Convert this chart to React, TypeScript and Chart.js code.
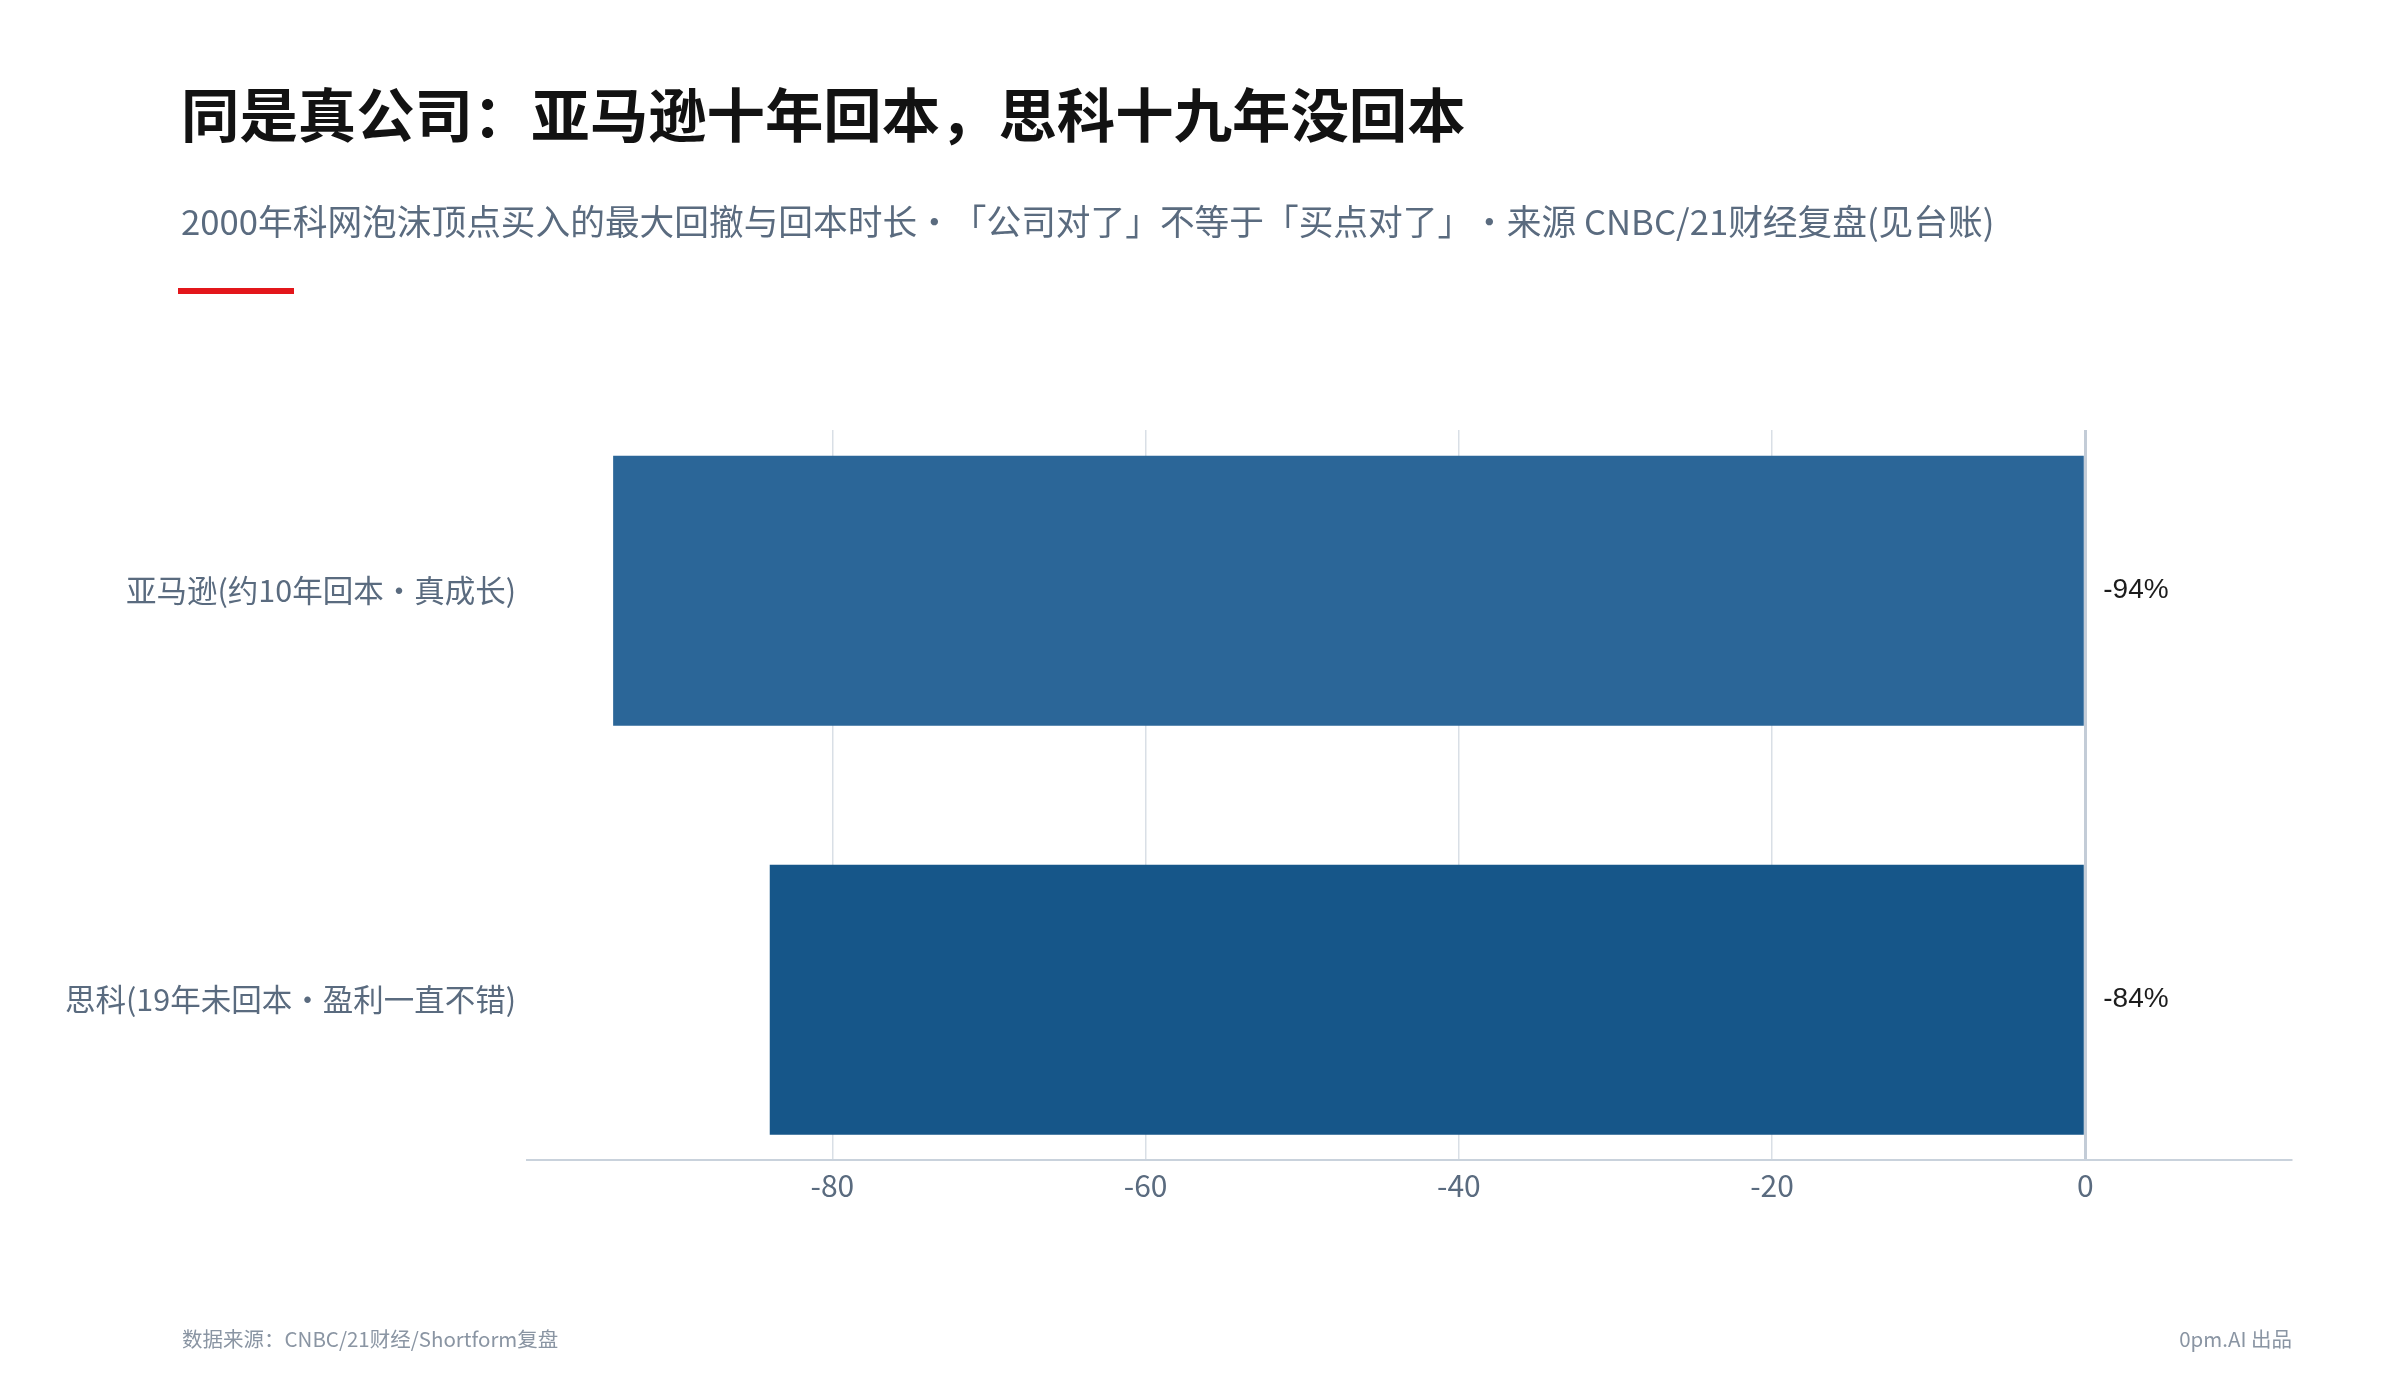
import React, { useRef, useEffect } from 'react';
import { Chart, registerables } from 'chart.js';

Chart.register(...registerables);

// data
const categories = ['亚马逊(约10年回本・真成长)', '思科(19年未回本・盈利一直不错)'];
const drawdown = [-94, -84];
const barColors = ['#2b6698', '#165689'];
const xTickValues = [-80, -60, -40, -20, 0];
const X_MIN = -99.5;
const X_MAX = 13.2;

const TITLE = '同是真公司：亚马逊十年回本，思科十九年没回本';
const SUBTITLE =
  '2000年科网泡沫顶点买入的最大回撤与回本时长・「公司对了」不等于「买点对了」・来源 CNBC/21财经复盘(见台账)';
const FOOT_LEFT = '数据来源：CNBC/21财经/Shortform复盘';
const FOOT_RIGHT = '0pm.AI 出品';

const CJK = '"Noto Sans CJK SC", "Noto Sans", sans-serif';
const SLATE = '#5a6b7f';

const valueLabels = {
  id: 'valueLabels',
  afterDatasetsDraw(chart: any) {
    const ctx = chart.ctx;
    const meta = chart.getDatasetMeta(0);
    const zero = chart.scales.x.getPixelForValue(0);
    meta.data.forEach((bar: any, i: number) => {
      ctx.save();
      ctx.font = '28px "Liberation Sans", Arial, sans-serif';
      ctx.fillStyle = '#1c1c1c';
      ctx.textAlign = 'left';
      ctx.textBaseline = 'middle';
      ctx.fillText(`${drawdown[i]}%`, zero + 18, bar.y);
      ctx.restore();
    });
  },
};

const DrawdownChart: React.FC = () => {
  const canvasRef = useRef<HTMLCanvasElement | null>(null);

  useEffect(() => {
    if (!canvasRef.current) return;

    const chart = new Chart(canvasRef.current, {
      type: 'bar',
      data: {
        datasets: [
          {
            data: drawdown.map((v, i) => ({ x: v, y: i })),
            backgroundColor: barColors,
            borderWidth: 0,
            barPercentage: 0.66,
            categoryPercentage: 1,
          },
        ],
      },
      options: {
        indexAxis: 'y',
        responsive: false,
        animation: false,
        devicePixelRatio: 1,
        layout: { padding: { top: 430, right: 108, bottom: 180, left: 0 } },
        plugins: {
          legend: { display: false },
          tooltip: { enabled: false },
        },
        scales: {
          x: {
            type: 'linear',
            min: X_MIN,
            max: X_MAX,
            afterBuildTicks: (scale: any) => {
              scale.ticks = xTickValues.map((v) => ({ value: v }));
            },
            afterFit: (scale: any) => {
              scale.height = 60;
            },
            grid: {
              drawTicks: false,
              color: (c: any) => (c.tick && c.tick.value === 0 ? '#c3ccd7' : '#d9dfe6'),
              lineWidth: (c: any) => (c.tick && c.tick.value === 0 ? 3 : 1.5),
            },
            border: { display: true, color: '#c9d2dc', width: 2 },
            ticks: {
              font: { family: CJK, size: 30 },
              color: SLATE,
              padding: 8,
            },
          },
          y: {
            type: 'linear',
            reverse: true,
            offset: false,
            min: -0.393,
            max: 1.392,
            afterBuildTicks: (scale: any) => {
              scale.ticks = categories.map((_, i) => ({ value: i }));
            },
            afterFit: (scale: any) => {
              scale.width = 527;
            },
            grid: { display: false, drawTicks: false, offset: false },
            border: { display: false },
            ticks: {
              callback: (v: any) => categories[v as number],
              font: { family: CJK, size: 30.5 },
              color: SLATE,
              padding: 11,
            },
          },
        },
      },
      plugins: [valueLabels],
    } as any);

    return () => {
      chart.destroy();
    };
  }, []);

  return <canvas ref={canvasRef} width={2400} height={1400} style={{ position: 'absolute', left: 0, top: 0 }} />;
};

const App: React.FC = () => {
  useEffect(() => {
    document.body.style.margin = '0';
  }, []);

  return (
    <div style={{ position: 'relative', width: 2400, height: 1400, background: '#fff', overflow: 'hidden' }}>
      <DrawdownChart />
      <div
        style={{
          position: 'absolute', left: 181, top: 83, fontFamily: CJK, fontSize: 58.4, fontWeight: 700,
          lineHeight: 1, color: '#121212', whiteSpace: 'nowrap',
        }}
      >
        {TITLE}
      </div>
      <div
        style={{
          position: 'absolute', left: 181, top: 203, fontFamily: CJK, fontSize: 34.7, lineHeight: 1,
          color: SLATE, whiteSpace: 'nowrap', textSpacingTrim: 'space-all',
        } as any}
      >
        {SUBTITLE}
      </div>
      <div style={{ position: 'absolute', left: 178, top: 288, width: 116, height: 6, background: '#e3161b' }} />
      <div
        style={{
          position: 'absolute', left: 182, top: 1328, fontFamily: CJK, fontSize: 20.5, lineHeight: 1,
          color: '#8a95a3', whiteSpace: 'nowrap',
        }}
      >
        {FOOT_LEFT}
      </div>
      <div
        style={{
          position: 'absolute', right: 108, top: 1328, fontFamily: CJK, fontSize: 20.5, lineHeight: 1,
          color: '#8a95a3', whiteSpace: 'nowrap',
        }}
      >
        {FOOT_RIGHT}
      </div>
    </div>
  );
};

export default App;
